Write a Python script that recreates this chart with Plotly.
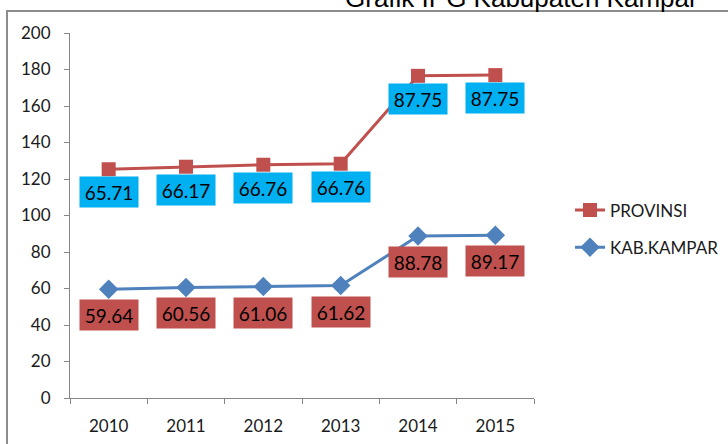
import plotly.graph_objects as go

years = ["2010", "2011", "2012", "2013", "2014", "2015"]
kab_kampar = [59.64, 60.56, 61.06, 61.62, 88.78, 89.17]
provinsi = [65.71, 66.17, 66.76, 66.76, 87.75, 87.75]
title_text = "Grafik IPG Kabupaten Kampar"

# Excel stacked line chart: PROVINSI drawn on top of KAB.KAMPAR
prov_stacked = [k + p for k, p in zip(kab_kampar, provinsi)]

RED = "#C0504D"
BLUE = "#4F81BD"
LABEL_BLUE = "#00B0F0"
FONT = "Lato, Carlito, 'Open Sans', sans-serif"
AXIS = "#868686"

L, T, PW, PH = 70, 33, 464, 365

fig = go.Figure()
fig.add_trace(go.Scatter(
    x=years, y=kab_kampar, name="KAB.KAMPAR", mode="lines+markers",
    line=dict(color=BLUE, width=3),
    marker=dict(symbol="diamond", size=15, color=BLUE),
    legendrank=2, legendgroup="b",
))
fig.add_trace(go.Scatter(
    x=years, y=prov_stacked, name="PROVINSI", mode="lines+markers",
    line=dict(color=RED, width=3),
    marker=dict(symbol="square", size=14, color=RED),
    legendrank=1, legendgroup="a",
))

annotations = []
for i, yr in enumerate(years):
    annotations.append(dict(
        x=i, y=prov_stacked[i], xref="x", yref="y", text=f"{provinsi[i]:.2f}",
        showarrow=False, yshift=-23, bgcolor=LABEL_BLUE, width=50, height=22,
        borderpad=4, font=dict(family=FONT, size=19, color="#000000"),
    ))
    annotations.append(dict(
        x=i, y=kab_kampar[i], xref="x", yref="y", text=f"{kab_kampar[i]:.2f}",
        showarrow=False, yshift=-26, bgcolor=RED, width=50, height=22,
        borderpad=4, font=dict(family=FONT, size=19, color="#000000"),
    ))

annotations.append(dict(
    text=title_text, xref="paper", yref="paper", x=(521 - L) / PW, y=1,
    xanchor="center", yanchor="middle", yshift=35, showarrow=False,
    font=dict(family="'Liberation Sans', Arial, sans-serif", size=26, color="#000000"),
))

fig.update_layout(
    width=728, height=444,
    margin=dict(l=L, r=728 - L - PW, t=T, b=444 - T - PH, autoexpand=False),
    paper_bgcolor="white", plot_bgcolor="white",
    showlegend=True,
    legend=dict(
        x=(570 - L) / PW, y=(398 - 229) / PH, xanchor="left", yanchor="middle",
        traceorder="grouped", tracegroupgap=12,
        font=dict(family=FONT, size=17, color="#1a1a1a"),
        bgcolor="rgba(0,0,0,0)",
    ),
    annotations=annotations,
    shapes=[dict(
        type="rect", xref="paper", yref="paper",
        x0=(7 - L) / PW, x1=1.6, y0=-0.5, y1=(398 - 11) / PH,
        line=dict(color="#8c8c8c", width=2), fillcolor="rgba(0,0,0,0)",
        layer="below",
    )],
)
fig.update_xaxes(
    type="category", range=[-0.5, 5.5], showline=True, linecolor=AXIS, linewidth=1,
    ticks="outside", tickson="boundaries", ticklen=5, tickcolor=AXIS,
    showgrid=False, zeroline=False, ticklabelstandoff=13, automargin=False,
    tickfont=dict(family=FONT, size=17, color="#1a1a1a"),
)
fig.update_yaxes(
    range=[0, 200], dtick=20, showline=True, linecolor=AXIS, linewidth=1,
    ticks="outside", ticklen=5, tickcolor=AXIS, showgrid=False, zeroline=False,
    ticklabelstandoff=10, automargin=False,
    tickfont=dict(family=FONT, size=17, color="#1a1a1a"),
)

fig.write_html("out.html", config={"displayModeBar": False},
               post_script="document.body.style.margin='0';")
